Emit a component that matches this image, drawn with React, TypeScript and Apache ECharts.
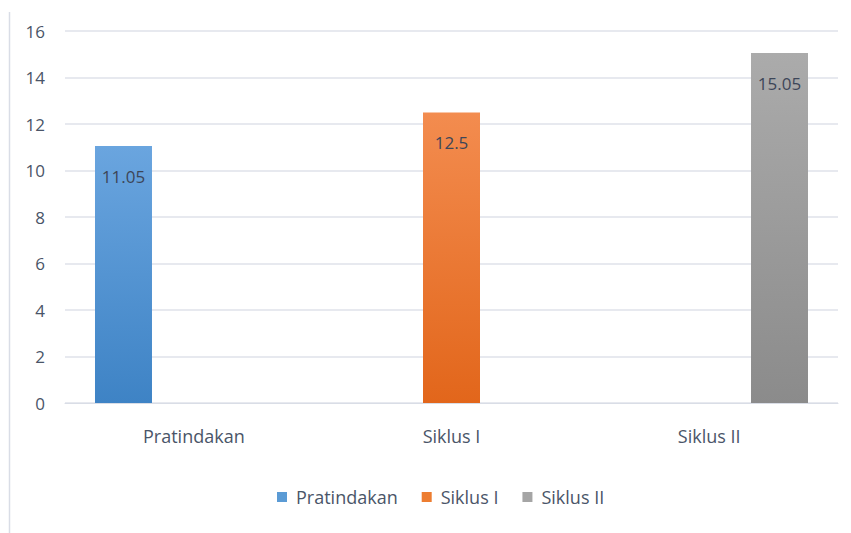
import React, { useEffect, useRef } from "react";
import * as echarts from "echarts";

const categories = ["Pratindakan", "Siklus I", "Siklus II"];
const seriesNames = ["Pratindakan", "Siklus I", "Siklus II"];
const pratindakan = [11.05, null, null];
const siklus1 = [null, 12.5, null];
const siklus2 = [null, null, 15.05];
const yTicks = { min: 0, max: 16, interval: 2 };

const FONT = "'Open Sans', 'Noto Sans', sans-serif";
const TXT = "#4a5568";

function grad(top: string, bottom: string) {
  return new echarts.graphic.LinearGradient(0, 0, 0, 1, [
    { offset: 0, color: top },
    { offset: 1, color: bottom },
  ]);
}

export default function App() {
  const ref = useRef<HTMLDivElement>(null);
  useEffect(() => {
    if (!ref.current) return;
    const chart = echarts.init(ref.current, null, { renderer: "svg" });
    const colors = [
      ["#6aa5df", "#3e83c5"],
      ["#f38c4f", "#e2661b"],
      ["#ababab", "#8b8b8b"],
    ];
    const legendColors = ["#5b9bd5", "#ed7d31", "#a5a5a5"];
    const datas = [pratindakan, siklus1, siklus2];
    chart.setOption({
      animation: false,
      backgroundColor: "#ffffff",
      textStyle: { fontFamily: FONT },
      grid: { left: 65, right: 13, top: 31, bottom: 130 },
      legend: {
        data: seriesNames.map((n, i) => ({ name: n, itemStyle: { color: legendColors[i] } })),
        left: 272,
        top: 483,
        itemWidth: 10,
        itemHeight: 10,
        itemGap: 24,
        icon: "rect",
        textStyle: { fontFamily: FONT, fontSize: 18, color: TXT, padding: [0, 0, 0, 4] },
      },
      xAxis: {
        type: "category",
        data: categories,
        axisLine: { lineStyle: { color: "#d9dde6" } },
        axisTick: { show: false },
        axisLabel: { fontFamily: FONT, fontSize: 18, color: TXT, margin: 24 },
      },
      yAxis: {
        type: "value",
        min: yTicks.min,
        max: yTicks.max,
        interval: yTicks.interval,
        axisLine: { show: false },
        axisTick: { show: false },
        splitLine: { lineStyle: { color: "#dfe2ea", width: 1.5 } },
        axisLabel: { fontFamily: FONT, fontSize: 17, color: TXT, margin: 20 },
      },
      series: datas.map((d, i) => ({
        name: seriesNames[i],
        type: "bar",
        data: d,
        barWidth: 57,
        barGap: "23.4%",
        itemStyle: { color: grad(colors[i][0], colors[i][1]) },
        label: {
          show: true,
          position: "insideTop",
          distance: 22,
          fontFamily: FONT,
          fontSize: 17,
          color: "#3d4658",
        },
      })),
      graphic: [
        {
          type: "line",
          shape: { x1: 9.5, y1: 12, x2: 9.5, y2: 533 },
          style: { stroke: "#d9dde6", lineWidth: 1.5 },
        },
      ],
    });
    return () => chart.dispose();
  }, []);
  return <div ref={ref} style={{ width: 851, height: 533, position: "absolute", left: 0, top: 0 }} />;
}
